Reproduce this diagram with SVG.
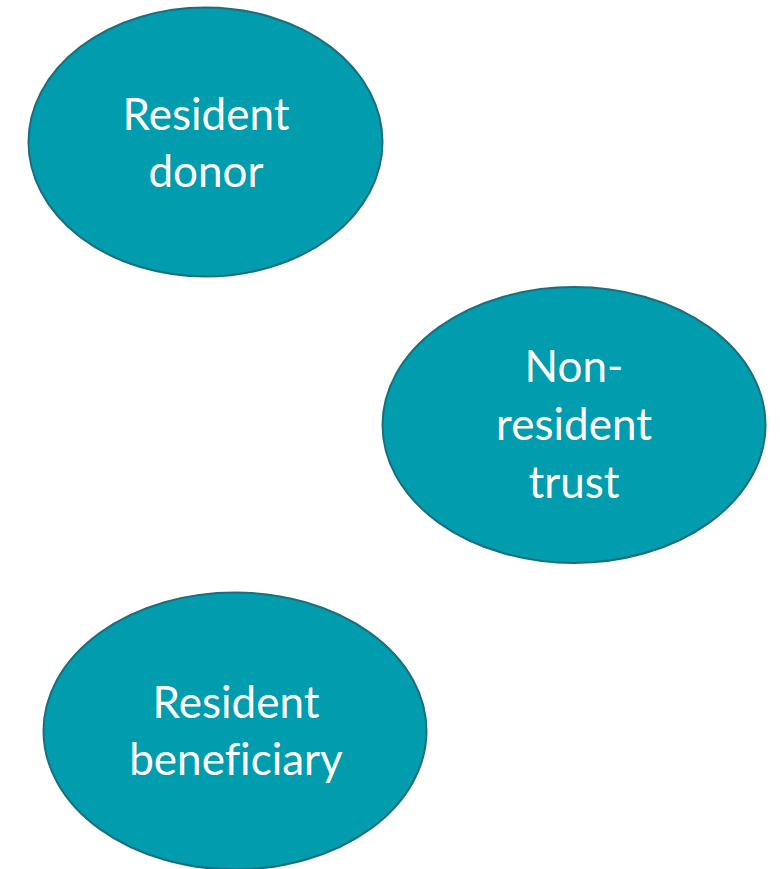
<svg xmlns="http://www.w3.org/2000/svg" width="780" height="869" viewBox="0 0 780 869">
  <style>
    .node { fill: #019CAE; stroke: #1B6F7C; stroke-width: 2; }
    .label { fill: #FFFFFF; font-family: Lato, "Open Sans", "Liberation Sans", sans-serif; font-size: 44px; text-anchor: middle; font-variant-ligatures: none; }
  </style>
  <rect width="780" height="869" fill="#FFFFFF"/>
  <g id="connectors"></g>
  <g id="resident-donor">
    <ellipse class="node" cx="205.5" cy="142" rx="177" ry="134.5"/>
    <text class="label" x="206" y="130">Resident</text>
    <text class="label" x="206" y="187">donor</text>
  </g>
  <g id="non-resident-trust">
    <ellipse class="node" cx="574" cy="425" rx="191.5" ry="138"/>
    <text class="label" x="574" y="382">Non-</text>
    <text class="label" x="574" y="440">resident</text>
    <text class="label" x="574" y="498">trust</text>
  </g>
  <g id="resident-beneficiary">
    <ellipse class="node" cx="235" cy="731" rx="191.5" ry="138.5"/>
    <text class="label" x="236" y="718">Resident</text>
    <text class="label" x="236" y="775">beneficiary</text>
  </g>
</svg>
